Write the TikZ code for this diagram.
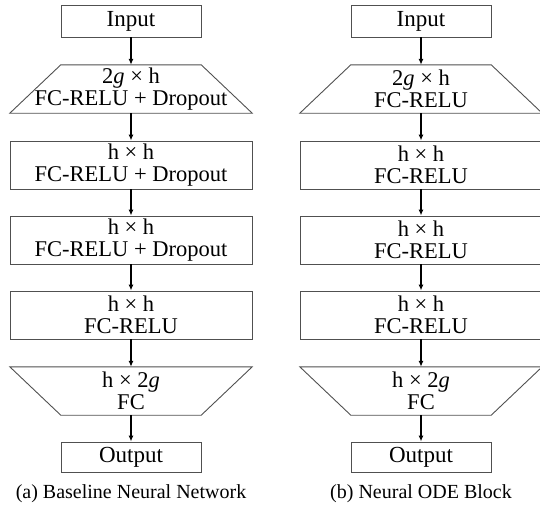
\documentclass[tikz,border=0pt]{standalone}
\usepackage{fontspec}
\setmainfont{Liberation Serif}
\usetikzlibrary{arrows.meta,calc}
\definecolor{boxline}{RGB}{80,80,80}
\newcommand\gvar{\textit{g}}
\begin{document}
\begin{tikzpicture}[x=1pt,y=-1pt,
  layer/.style={minimum width=242pt,minimum height=48pt,inner sep=0pt,align=center,
    font=\fontsize{22.5}{22}\selectfont},
  boxed/.style={layer,draw=boxline,line width=0.9pt},
  io/.style={draw=boxline,line width=0.9pt,minimum width=140pt,inner sep=0pt,
    font=\fontsize{23}{23}\selectfont},
  trap/.style={draw=boxline,line width=0.9pt},
  flow/.style={line width=1.3pt,-{Latex[length=6pt,width=5pt]}},
  caption/.style={anchor=base,font=\fontsize{20}{20}\selectfont}]
\useasboundingbox (0,0) rectangle (540,512);

% (a) baseline network
\node[io,minimum height=32pt] (ain) at (131,21) {Input};
\node[layer] (a1) at (131,89) {2\gvar{} × h\\FC-RELU + Dropout};
\node[boxed] (a2) at (131,165) {h × h\\FC-RELU + Dropout};
\node[boxed] (a3) at (131,240) {h × h\\FC-RELU + Dropout};
\node[boxed] (a4) at (131,315) {h × h\\FC-RELU};
\node[layer] (a5) at (131,391) {h × 2\gvar\\FC};
\node[io,minimum height=30pt] (aout) at (131,457) {Output};
\node[caption] (acap) at (131,498) {(a) Baseline Neural Network};

% (b) neural ODE block
\node[io,minimum height=32pt] (bin) at (421,21) {Input};
\node[layer] (b1) at (421,89) {2\gvar{} × h\\FC-RELU};
\node[boxed] (b2) at (421,165) {h × h\\FC-RELU};
\node[boxed] (b3) at (421,240) {h × h\\FC-RELU};
\node[boxed] (b4) at (421,315) {h × h\\FC-RELU};
\node[layer] (b5) at (421,391) {h × 2\gvar\\FC};
\node[io,minimum height=30pt] (bout) at (421,457) {Output};
\node[caption] (bcap) at (421,498) {(b) Neural ODE Block};

% widening and narrowing layers
\foreach \n in {a1,b1}
  \draw[trap] ($(\n.north west)+(51,0)$) -- ($(\n.north east)+(-51,0)$)
    -- (\n.south east) -- (\n.south west) -- cycle;
\foreach \n in {a5,b5}
  \draw[trap] (\n.north west) -- (\n.north east)
    -- ($(\n.south east)+(-51,0)$) -- ($(\n.south west)+(51,0)$) -- cycle;

% data flow
\foreach \c in {a,b} {
  \draw[flow] (\c in.south) -- (\c1.north);
  \draw[flow] (\c1.south) -- (\c2.north);
  \draw[flow] (\c2.south) -- (\c3.north);
  \draw[flow] (\c3.south) -- (\c4.north);
  \draw[flow] (\c4.south) -- (\c5.north);
  \draw[flow] (\c5.south) -- (\c out.north);
}
\end{tikzpicture}
\end{document}
